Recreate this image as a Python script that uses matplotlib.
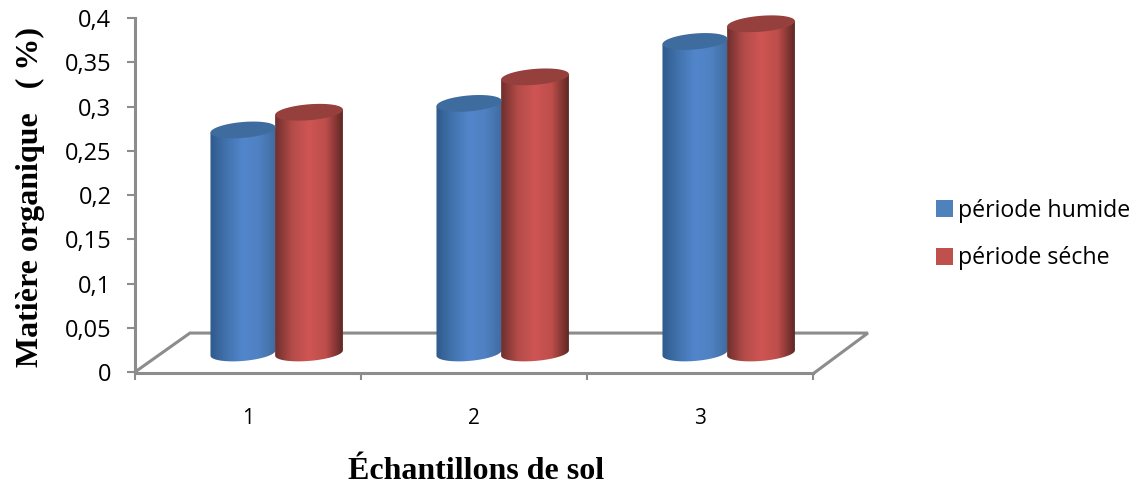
import matplotlib
matplotlib.use("Agg")
import matplotlib.pyplot as plt
import numpy as np
from matplotlib.colors import LinearSegmentedColormap
from matplotlib.patches import Patch, PathPatch
from matplotlib.path import Path

categories = ["1", "2", "3"]
humide = [0.26, 0.29, 0.36]
seche = [0.28, 0.32, 0.38]
y_ticks = [0, 0.05, 0.1, 0.15, 0.2, 0.25, 0.3, 0.35, 0.4]
y_labels = ["0", "0,05", "0,1", "0,15", "0,2", "0,25", "0,3", "0,35", "0,4"]

W, H = 1137, 486
AX_L, AX_R, AX_T, AX_B = 135, 813, 18, 372

BLUE_RAMP = ["#2f5a8c", "#4273ae", "#5286cc", "#4f81c2", "#3f6b9f"]
RED_RAMP = ["#6f2f2d", "#b34c49", "#cf5553", "#bd4e4b", "#5f2725"]
BLUE_TOP = "#3f6c9e"
RED_TOP = "#96403d"
GREY = "#8c8c8c"


def cylinder(ax, x_center, value, width, ramp, top_color):
    # base and top are slightly tilted ellipses, like the 3D excel look
    half = width / 2
    rise = 0.009
    tilt = 0.003
    base = 0.0215
    top = value + 0.0135

    t = np.linspace(np.pi, 2 * np.pi, 60)
    xs = np.cos(t)
    lower_x = x_center + half * xs
    lower_y = base + rise * np.sin(t) + tilt * xs
    upper_x = lower_x[::-1]
    upper_y = top + tilt * xs[::-1]
    verts = np.column_stack([np.r_[lower_x, upper_x], np.r_[lower_y, upper_y]])
    body = PathPatch(Path(verts), fc="none", ec="none", transform=ax.transData)
    ax.add_patch(body)

    cmap = LinearSegmentedColormap.from_list("c", ramp)
    img = ax.imshow(np.linspace(0, 1, 128).reshape(1, -1), cmap=cmap, aspect="auto",
                    extent=[x_center - half, x_center + half, 0, 0.4], zorder=3)
    img.set_clip_path(body)

    a = np.linspace(0, 2 * np.pi, 80)
    cap_x = x_center + half * np.cos(a)
    cap_y = top + rise * np.sin(a) + tilt * np.cos(a)
    ax.fill(cap_x, cap_y, color=top_color, lw=0, zorder=3.1, clip_on=False)


fig = plt.figure(figsize=(W / 100, H / 100), dpi=100)
ax = fig.add_axes([AX_L / W, 1 - AX_B / H, (AX_R - AX_L) / W, (AX_B - AX_T) / H])
ax.patch.set_alpha(0)

x = np.arange(1, len(categories) + 1)
for i in range(len(categories)):
    cylinder(ax, x[i] - 0.022, humide[i], 0.288, BLUE_RAMP, BLUE_TOP)
    cylinder(ax, x[i] + 0.27, seche[i], 0.30, RED_RAMP, RED_TOP)

# floor of the 3D box
floor_x = [0.5, 0.743, 3.743, 3.5]
floor_y = [0, 0.044, 0.044, -0.002]
ax.plot(floor_x, floor_y, color=GREY, lw=2.2, zorder=1, clip_on=False, solid_joinstyle="miter")
ax.plot([0.5, 3.5], [-0.001, -0.001], color=GREY, lw=2.2, zorder=1, clip_on=False)

ax.set_xlim(0.5, 3.5)
ax.set_ylim(0, 0.4)

for s in ["top", "right", "bottom"]:
    ax.spines[s].set_visible(False)
ax.spines["left"].set_color(GREY)
ax.spines["left"].set_linewidth(2.2)

ax.set_yticks(y_ticks)
ax.set_yticklabels(y_labels, fontfamily="Open Sans", fontsize=17)
ax.tick_params(axis="y", color=GREY, width=1.5, length=6, pad=11)
ax.set_xticks([0.5, 1.5, 2.5, 3.5])
ax.set_xticklabels([])
ax.tick_params(axis="x", which="major", color=GREY, width=1.5, length=6)
ax.set_xticks(x, minor=True)
ax.set_xticklabels(categories, minor=True, fontfamily="Open Sans")
ax.tick_params(axis="x", which="minor", length=0, pad=26, labelsize=15)

ax.set_xlabel("Échantillons de sol", fontfamily="Liberation Serif", fontweight="bold", fontsize=23)
ax.xaxis.set_label_coords(0.503, -0.24)
ax.set_ylabel("Matière organique   ( %)", fontfamily="Liberation Serif", fontweight="bold", fontsize=23)
ax.yaxis.set_label_coords(-0.133, 0.495)

handles = [Patch(fc="#4f81bd", label="période humide"), Patch(fc="#c0504d", label="période séche")]
fig.legend(handles=handles, loc="center left", bbox_to_anchor=(917 / W, 1 - 234.5 / H), frameon=False,
           prop={"family": "Open Sans", "size": 16.7}, handlelength=0.75, handleheight=0.75,
           handletextpad=0.2, labelspacing=1.0, borderpad=0.3)

fig.savefig("out.png", dpi=100)
